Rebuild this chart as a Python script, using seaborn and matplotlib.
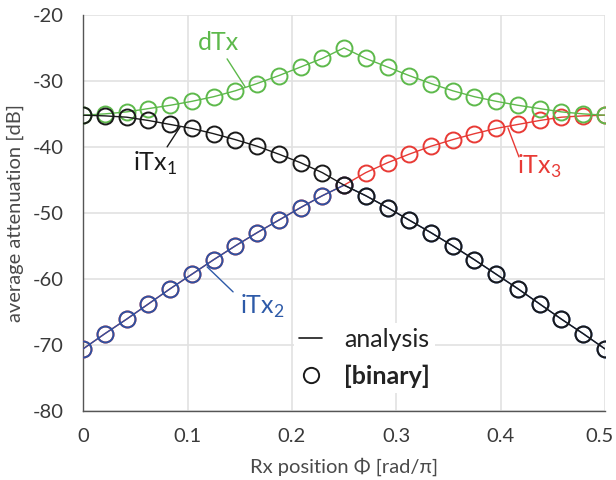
import numpy as np
import pandas as pd
import matplotlib
matplotlib.use("Agg")
import matplotlib.pyplot as plt
import matplotlib.transforms as mtransforms
import seaborn as sns
from matplotlib.lines import Line2D

# ---- data ----
rx_position = [i * 0.5 / 24 for i in range(25)]
dTx = [-35.2, -35.0, -34.7, -34.2, -33.7, -33.1, -32.4, -31.5, -30.4, -29.2, -27.9, -26.6, -25.0,
       -26.6, -27.9, -29.2, -30.4, -31.5, -32.4, -33.1, -33.7, -34.2, -34.7, -35.0, -35.2]
iTx1 = [-35.2, -35.3, -35.5, -36.0, -36.6, -37.2, -38.0, -38.9, -39.9, -41.1, -42.4, -43.9, -45.8,
        -47.4, -49.2, -51.1, -53.0, -55.0, -57.1, -59.3, -61.5, -63.8, -66.1, -68.3, -70.6]
iTx2 = [-70.6, -68.3, -66.1, -63.8, -61.5, -59.3, -57.1, -55.0, -53.0, -51.1, -49.2, -47.4, -45.8,
        -47.4, -49.2, -51.1, -53.0, -55.0, -57.1, -59.3, -61.5, -63.8, -66.1, -68.3, -70.6]
iTx3 = [-70.6, -68.3, -66.1, -63.8, -61.5, -59.3, -57.1, -55.0, -53.0, -51.1, -49.2, -47.4, -45.8,
        -43.9, -42.4, -41.1, -39.9, -38.9, -38.0, -37.2, -36.6, -36.0, -35.5, -35.3, -35.2]
x_ticks = [0, 0.1, 0.2, 0.3, 0.4, 0.5]
x_tick_labels = ["0", "0.1", "0.2", "0.3", "0.4", "0.5"]
y_ticks = [-80, -70, -60, -50, -40, -30, -20]

sns.set_theme(style="white")
plt.rcParams['font.family'] = ['Lato', 'DejaVu Sans']
plt.rcParams['mathtext.fontset'] = 'custom'
plt.rcParams['mathtext.rm'] = 'Lato'
plt.rcParams['axes.unicode_minus'] = False

colors = {"iTx3": "#E83A35", "iTx2": "#2D52A2", "dTx": "#5DB94B", "iTx1": "#1A1A1A"}
series = {"iTx3": iTx3, "iTx2": iTx2, "dTx": dTx, "iTx1": iTx1}

fig = plt.figure(figsize=(6.16, 4.8), dpi=100)
ax = fig.add_axes([0.135, 0.144, 0.847, 0.825])

for z, (name, vals) in enumerate(series.items()):
    df = pd.DataFrame({"x": rx_position, "y": vals})
    sns.lineplot(data=df, x="x", y="y", ax=ax, color=colors[name], lw=1.0, zorder=3 + 2 * z)
    ax.plot(df["x"], df["y"], ls="none", marker="o", ms=11.5, mfc="none",
            mec=colors[name], mew=1.4, zorder=4 + 2 * z)

ax.set_xlim(0, 0.5)
ax.set_ylim(-80, -20)
ax.set_xticks(x_ticks)
ax.set_xticklabels(x_tick_labels)
ax.set_yticks(y_ticks)
ax.grid(True, color="#e2e2e2", lw=1.2, zorder=0)
ax.set_axisbelow(True)
for s in ["top", "right"]:
    ax.spines[s].set_visible(False)
for s in ["left", "bottom"]:
    ax.spines[s].set_color("#555555")
    ax.spines[s].set_linewidth(1.0)
ax.tick_params(direction="in", length=5, width=1, color="#555555",
               labelsize=14.5, labelcolor="#3a3a3a")
ax.tick_params(axis="x", pad=12)
ax.tick_params(axis="y", pad=14)
last = ax.get_xticklabels()[-1]
last.set_transform(last.get_transform() + mtransforms.ScaledTranslation(-4 / 72, 0, fig.dpi_scale_trans))
ax.set_xlabel("Rx position Φ [rad/π]", fontsize=14.5, color="#4a4a4a", labelpad=9)
ax.set_ylabel("average attenuation [dB]", fontsize=14.5, color="#4a4a4a", labelpad=6)

# annotations
def px2data(px, py):
    x0, x1 = 83, 605
    y0, y1 = 15, 411
    return (px - x0) / (x1 - x0) * 0.5, -20 - (py - y0) / (y1 - y0) * 60

def annot(text, color, text_px, p1, p2):
    tx, ty = px2data(*text_px)
    ax.text(tx, ty, text, color=color, fontsize=18, ha="center", va="center", zorder=20)
    a, b = px2data(*p1)
    c, d = px2data(*p2)
    ax.plot([a, c], [b, d], color=color, lw=1.0, zorder=20)

annot("dTx", colors["dTx"], (218, 43), (227, 59), (245, 87))
annot("iTx$_\\mathregular{1}$", colors["iTx1"], (155, 164), (167, 147), (180, 127))
annot("iTx$_\\mathregular{3}$", colors["iTx3"], (539, 167), (519, 157), (508, 128))
annot("iTx$_\\mathregular{2}$", "#2D5AA8", (262, 307), (233, 292), (207, 267))

handles = [Line2D([], [], color="#1A1A1A", lw=1.2),
           Line2D([], [], ls="none", marker="o", ms=11, mfc="none", mec="#1A1A1A", mew=1.4)]
leg = ax.legend(handles, ["analysis", "[binary]"], loc="upper left",
                bbox_to_anchor=(0.405, 0.222), frameon=True, fontsize=18,
                handlelength=0.9, handletextpad=0.9, labelspacing=0.55,
                borderpad=0.2, borderaxespad=0)
leg.get_frame().set_edgecolor("none")
leg.get_frame().set_facecolor("white")
leg.get_frame().set_alpha(1)
leg.set_zorder(30)
texts = leg.get_texts()
texts[0].set_color("#222222")
texts[1].set_fontweight("bold")
texts[1].set_color("#222222")

fig.savefig("out.png", dpi=100)
